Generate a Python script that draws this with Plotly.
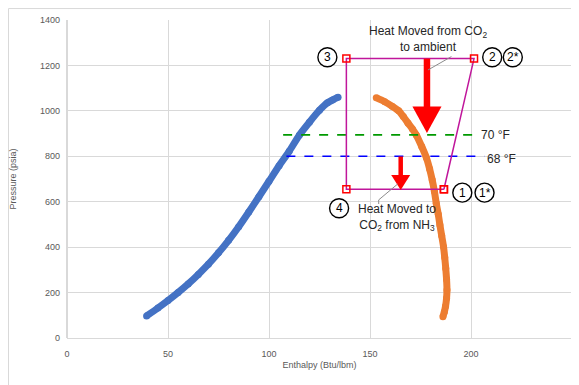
import plotly.graph_objects as go

# Saturated liquid line (blue)
liq_h = [39.4, 45.0, 50.0, 55.0, 60.0, 65.0, 70.0, 75.0, 80.0, 85.0, 90.0, 95.0, 100.0, 105.0, 110.0,
         115.0, 120.0, 125.0, 129.0, 131.5, 134.2]
liq_p = [97, 132, 165, 200, 238, 280, 325, 375, 430, 490, 555, 622, 690, 758, 822,
         893, 950, 1003, 1036, 1048, 1060]
# Saturated vapor line (orange)
vap_h = [153.1, 157.3, 161.0, 164.2, 166.5, 168.8, 171.0, 172.9, 175.6, 177.9, 179.5, 180.8, 181.9,
         182.8, 183.8, 184.6, 185.5, 186.4, 187.0, 187.5, 187.9, 188.1, 187.9, 187.4, 186.8, 186.1]
vap_p = [1058, 1040, 1020, 1000, 975, 946, 920, 894, 843, 794, 745, 696, 645,
         593, 545, 498, 450, 402, 354, 306, 258, 211, 175, 140, 115, 94]
# Cycle points 1 -> 2 -> 3 -> 4 -> 1
cyc_h = [186.6, 201.5, 138.3, 138.3, 186.6]
cyc_p = [655, 1230, 1230, 655, 655]
# Isotherms
iso70_h = [107, 203]
iso70_p = [894, 894]
iso68_h = [108.6, 206.7]
iso68_p = [800, 800]

fig = go.Figure()
fig.add_trace(go.Scatter(x=liq_h, y=liq_p, mode="lines+markers",
                         line=dict(color="#4472C4", width=7, shape="spline", smoothing=0.7),
                         marker=dict(color="#4472C4", size=7)))
fig.add_trace(go.Scatter(x=vap_h, y=vap_p, mode="lines+markers",
                         line=dict(color="#ED7D31", width=7, shape="spline", smoothing=0.7),
                         marker=dict(color="#ED7D31", size=7)))
fig.add_trace(go.Scatter(x=iso70_h, y=iso70_p, mode="lines",
                         line=dict(color="#009900", width=1.8, dash="dash")))
fig.add_trace(go.Scatter(x=iso68_h, y=iso68_p, mode="lines",
                         line=dict(color="#0000FF", width=1.5, dash="dash")))
fig.add_trace(go.Scatter(x=cyc_h, y=cyc_p, mode="lines+markers",
                         line=dict(color="#C0169B", width=1.5),
                         marker=dict(symbol="square-open", color="#FF0000", size=7,
                                     line=dict(width=1.5, color="#FF0000"))))

shapes = []
# Big arrow (heat to ambient)
shapes.append(dict(type="line", x0=178.2, x1=178.2, y0=1230, y1=1015, xref="x", yref="y",
                   line=dict(color="#FF0000", width=6.5)))
shapes.append(dict(type="path", xref="x", yref="y",
                   path="M 171.0,1019 L 185.4,1019 L 178.2,902 Z",
                   fillcolor="#FF0000", line=dict(color="#FF0000", width=0)))
# Small arrow (heat to CO2)
shapes.append(dict(type="line", x0=165.2, x1=165.2, y0=799, y1=715, xref="x", yref="y",
                   line=dict(color="#FF0000", width=4.5)))
shapes.append(dict(type="path", xref="x", yref="y",
                   path="M 160.5,718 L 169.9,718 L 165.2,652 Z",
                   fillcolor="#FF0000", line=dict(color="#FF0000", width=0)))
# Leader lines
shapes.append(dict(type="line", x0=190.3, y0=1239, x1=178.7, y1=1180, xref="x", yref="y",
                   line=dict(color="#8c8c8c", width=1)))
shapes.append(dict(type="path", xref="x", yref="y",
                   path="M 154.3,590 L 154.3,608 L 163.7,678",
                   line=dict(color="#8c8c8c", width=1)))

# Circled labels
circ_lbl = ["3", "2", "2*", "1", "1*", "4"]
circ_h = [128.9, 210.5, 220.7, 195.7, 206.7, 134.7]
circ_p = [1236, 1236, 1236, 640, 640, 571]
annotations = []
for t, cx, cy in zip(circ_lbl, circ_h, circ_p):
    shapes.append(dict(type="circle", xref="x", yref="y", xsizemode="pixel", ysizemode="pixel",
                       xanchor=cx, yanchor=cy, x0=-9.5, x1=9.5, y0=-9.5, y1=9.5,
                       line=dict(color="black", width=1.4), fillcolor="white"))
    annotations.append(dict(x=cx, y=cy, text=t, showarrow=False, xref="x", yref="y",
                            font=dict(size=12, color="black", family="Liberation Sans")))

txt_font = dict(size=12, color="#262626", family="Liberation Sans")
annotations += [
    dict(x=178.5, y=1315, text="Heat Moved from CO<sub>2</sub><br>to ambient",
         showarrow=False, xref="x", yref="y", font=txt_font, align="center", yanchor="middle"),
    dict(x=163.4, y=530, text="Heat Moved to<br>CO<sub>2</sub> from NH<sub>3</sub>",
         showarrow=False, xref="x", yref="y", font=txt_font, align="center", yanchor="middle"),
    dict(x=204.0, y=894, text="70 °F", showarrow=False, xref="x", yref="y", xanchor="left",
         font=txt_font),
    dict(x=207.0, y=790, text="68 °F", showarrow=False, xref="x", yref="y", xanchor="left",
         font=txt_font),
]

# Outer chart border
shapes.append(dict(type="rect", xref="paper", yref="paper", x0=-0.1158, x1=1.05, y0=-0.3, y1=1.036,
                   line=dict(color="#d9d9d9", width=1), layer="below"))

fig.update_layout(
    width=571, height=377,
    margin=dict(l=59, r=7, t=12, b=47),
    plot_bgcolor="white", paper_bgcolor="white",
    showlegend=False,
    shapes=shapes, annotations=annotations,
    font=dict(family="Liberation Sans", color="#595959", size=9),
)
fig.update_xaxes(range=[0, 250], dtick=50, showgrid=True, gridcolor="#d9d9d9", gridwidth=1,
                 zeroline=True, zerolinecolor="#d9d9d9", showline=True, linecolor="#d9d9d9",
                 ticks="", ticklabelstandoff=7, automargin=False,
                 title=dict(text="Enthalpy (Btu/lbm)", font=dict(size=9, color="#595959"), standoff=3),
                 tickfont=dict(size=9, color="#595959"))
fig.update_yaxes(range=[0, 1400], dtick=200, showgrid=True, gridcolor="#d9d9d9", gridwidth=1,
                 zeroline=False, showline=False, ticks="", ticklabelstandoff=6, automargin=False,
                 title=dict(text="Pressure (psia)", font=dict(size=9, color="#595959"), standoff=22),
                 tickfont=dict(size=9, color="#595959"))

fig.write_html("out.html")
